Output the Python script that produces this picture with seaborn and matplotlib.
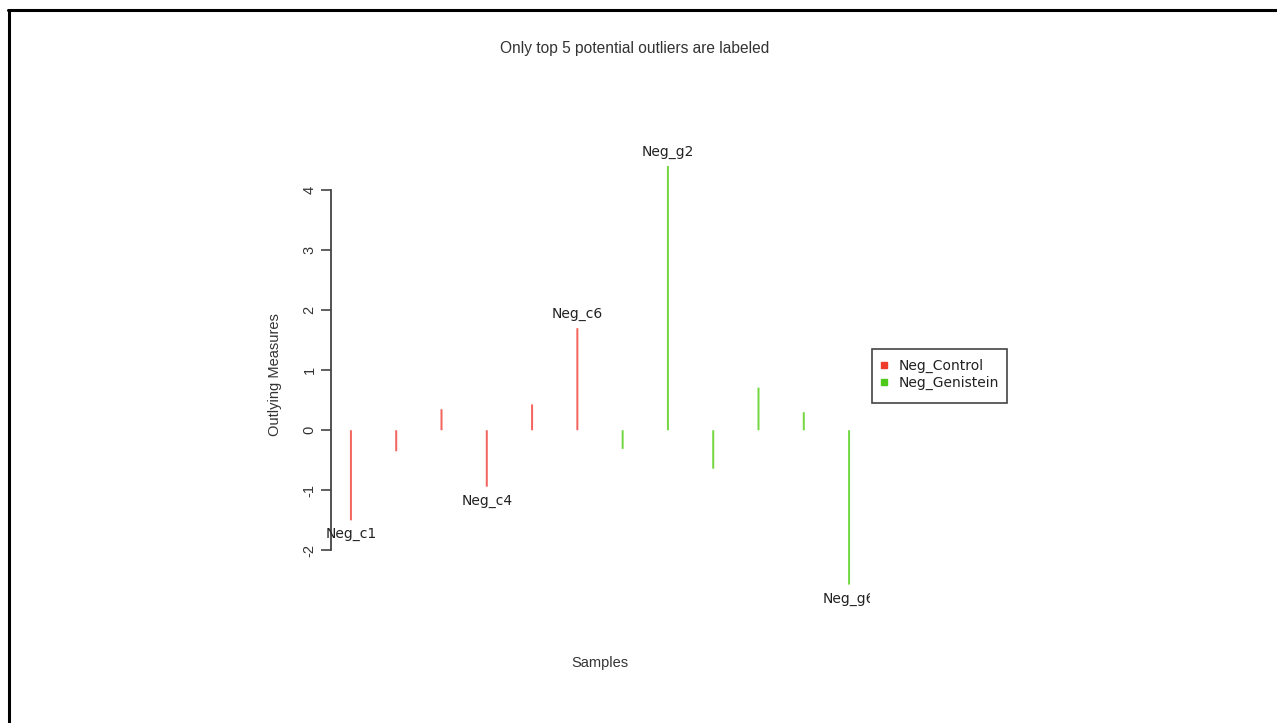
import matplotlib
matplotlib.use("Agg")
import matplotlib.pyplot as plt
from matplotlib.lines import Line2D
from matplotlib.patches import Rectangle
import seaborn as sns
import pandas as pd

# Sample outlying measures
samples = ["Neg_c1", "Neg_c2", "Neg_c3", "Neg_c4", "Neg_c5", "Neg_c6",
           "Neg_g1", "Neg_g2", "Neg_g3", "Neg_g4", "Neg_g5", "Neg_g6"]
groups = ["Neg_Control"] * 6 + ["Neg_Genistein"] * 6
values = [-1.50, -0.35, 0.35, -0.94, 0.43, 1.70,
          -0.31, 4.40, -0.64, 0.71, 0.30, -2.57]
labeled = ["Neg_c1", "Neg_c4", "Neg_c6", "Neg_g2", "Neg_g6"]
group_names = ["Neg_Control", "Neg_Genistein"]
spike_colors = ["#F4645E", "#74D741"]
key_colors = ["#EE3B2A", "#4CC91B"]
y_ticks = [-2, -1, 0, 1, 2, 3, 4]

df = pd.DataFrame({"sample": samples, "group": groups, "value": values})

sns.set_style("white")
W, H = 1277, 723
fig = plt.figure(figsize=(W / 100, H / 100), dpi=100)
ax = fig.add_axes([331 / W, 1 - 602 / H, (869 - 331) / W, (602 - 148) / H])

sns.barplot(data=df, x="sample", y="value", hue="group", hue_order=group_names,
            palette=spike_colors, width=0.044, dodge=False, saturation=1,
            linewidth=0, legend=False, ax=ax, errorbar=None)
for p in ax.patches:
    p.set_snap(False)

ax.set_xlim(-0.44, len(samples) - 0.56)
ax.set_ylim(-2.86, 4.70)
for s in ["top", "right", "bottom"]:
    ax.spines[s].set_visible(False)
ax.spines["left"].set_bounds(y_ticks[0], y_ticks[-1])
ax.spines["left"].set_color("#444444")
ax.spines["left"].set_linewidth(1.3)
ax.set_xticks([])
ax.set_yticks(y_ticks)
ax.set_yticklabels([str(t) for t in y_ticks], rotation=90, va="center",
                   family="Liberation Sans", fontsize=10.5, color="#333333")
ax.tick_params(axis="y", left=True, length=7, width=1.2, color="#444444", pad=3.5)
ax.set_xlabel("Samples", family="Liberation Sans", fontsize=10.5,
              color="#333333", labelpad=39)
ax.set_ylabel("Outlying Measures", family="Liberation Sans", fontsize=10.5,
              color="#333333", labelpad=15)
ax.set_facecolor("white")

# Labels for the top outliers, clipped at the right edge of the plot region
clip = Rectangle((0, 0), 870 / W, 1, transform=fig.transFigure, visible=False)
fig.add_artist(clip)
for i, (name, v) in enumerate(zip(samples, values)):
    if name in labeled:
        off = 14 if v > 0 else -14
        t = ax.annotate(name, (i, v), xytext=(0, off), textcoords="offset pixels",
                        ha="center", va="center", fontsize=10,
                        family="DejaVu Sans", color="#222222", annotation_clip=False)
        t.set_clip_path(clip)

# Legend with a square-cornered box
handles = [Line2D([], [], marker="s", linestyle="none", markersize=4,
                  markerfacecolor=c, markeredgecolor=c) for c in key_colors]
leg = fig.legend(handles, group_names, loc="upper left",
                 bbox_to_anchor=(878 / W, 1 - 359 / H),
                 prop={"family": "DejaVu Sans", "size": 10},
                 frameon=False, handlelength=0.8, handletextpad=0.7,
                 borderpad=0, labelspacing=0.2, borderaxespad=0)
for txt in leg.get_texts():
    txt.set_color("#222222")
fig.add_artist(Rectangle((872 / W, 1 - 403 / H), (1007 - 872) / W, (403 - 349) / H,
                         transform=fig.transFigure, facecolor="none",
                         edgecolor="#444444", linewidth=1.2))

fig.text(635 / W, 1 - 49 / H, "Only top 5 potential outliers are labeled",
         ha="center", va="center", family="Liberation Sans", fontsize=11.2,
         color="#333333")

# Outer frame lines (top and left)
fig.add_artist(Line2D([8 / W, 1], [1 - 10 / H, 1 - 10 / H], color="black",
                      linewidth=2.2, transform=fig.transFigure))
fig.add_artist(Line2D([9 / W, 9 / W], [0, 1 - 10 / H], color="black",
                      linewidth=2.2, transform=fig.transFigure))

fig.savefig("out.png", dpi=100, facecolor="white")
